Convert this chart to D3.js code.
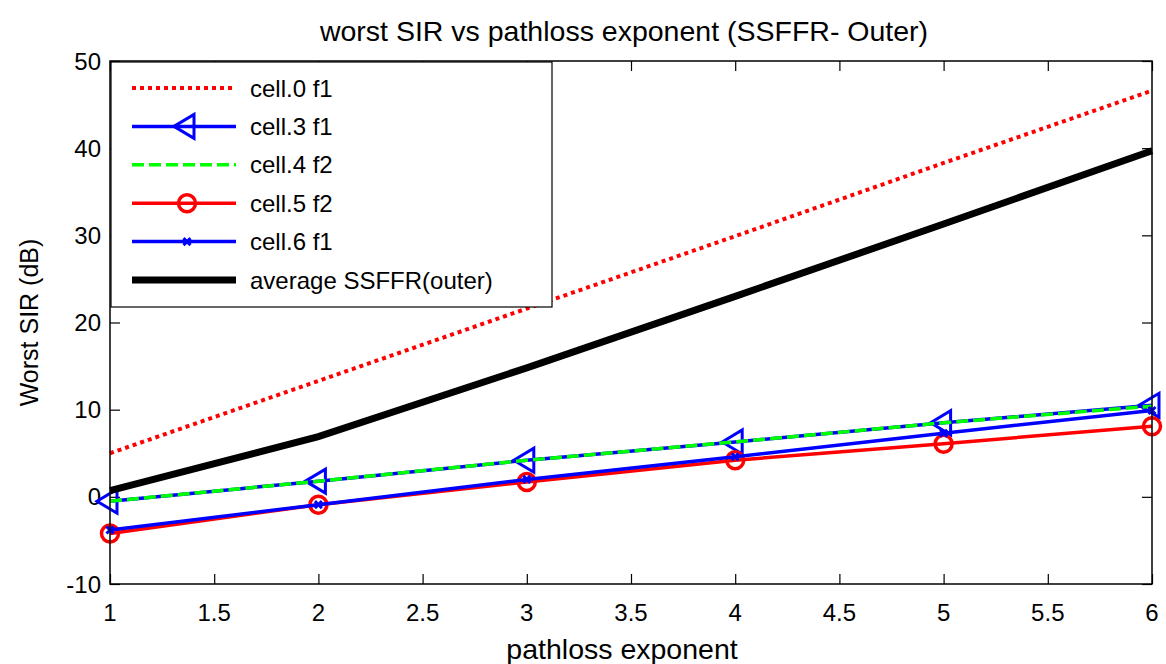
<!DOCTYPE html>
<html>
<head>
<meta charset="utf-8">
<script src="https://cdn.jsdelivr.net/npm/d3@7"></script>
<style>
  body { margin: 0; background: #fff; }
  text { font-family: "Liberation Sans", Arial, sans-serif; }
</style>
</head>
<body>
<script>
// data
var exponents = [1, 2, 3, 4, 5, 6];
var cell0f1 = [5.0, 13.3, 21.6, 29.9, 38.3, 46.6];
var cell3f1 = [-0.5, 1.8, 4.2, 6.3, 8.5, 10.5];
var cell4f2 = [-0.5, 1.8, 4.2, 6.3, 8.5, 10.4];
var cell5f2 = [-4.2, -0.9, 1.7, 4.2, 6.1, 8.1];
var cell6f1 = [-3.8, -0.9, 2.0, 4.6, 7.3, 9.9];
var avgOuter = [0.7, 6.9, 14.8, 23.0, 31.3, 39.7];
var xTicks = [1, 1.5, 2, 2.5, 3, 3.5, 4, 4.5, 5, 5.5, 6];
var yTicks = [-10, 0, 10, 20, 30, 40, 50];

var series = [
  { name: "cell.0 f1", values: cell0f1, color: "#ff0000", width: 4, dash: "4,4", marker: null },
  { name: "cell.3 f1", values: cell3f1, color: "#0000ff", width: 3.5, dash: null, marker: "tri" },
  { name: "cell.4 f2", values: cell4f2, color: "#00ff00", width: 3.5, dash: "12,5", marker: null },
  { name: "cell.5 f2", values: cell5f2, color: "#ff0000", width: 3.5, dash: null, marker: "circle" },
  { name: "cell.6 f1", values: cell6f1, color: "#0000ff", width: 3.5, dash: null, marker: "x" },
  { name: "average SSFFR(outer)", values: avgOuter, color: "#000000", width: 7, dash: null, marker: null }
];

var W = 1166, H = 664;
var pLeft = 110, pRight = 1152, pTop = 61, pBottom = 584;

var svg = d3.select("body").append("svg")
  .attr("width", W)
  .attr("height", H);

var x = d3.scaleLinear().domain([1, 6]).range([pLeft, pRight]);
var y = d3.scaleLinear().domain([-10, 50]).range([pBottom, pTop]);

// title
svg.append("text")
  .attr("x", 624)
  .attr("y", 41)
  .attr("text-anchor", "middle")
  .style("font-size", "28.5px")
  .text("worst SIR vs pathloss exponent (SSFFR- Outer)");

// axes with inward ticks on all four sides
var tick = 10;
svg.append("g")
  .attr("transform", "translate(0," + pBottom + ")")
  .call(d3.axisTop(x).tickValues(xTicks).tickSize(tick).tickFormat(""));
svg.append("g")
  .attr("transform", "translate(0," + pTop + ")")
  .call(d3.axisBottom(x).tickValues(xTicks).tickSize(tick).tickFormat(""));
svg.append("g")
  .attr("transform", "translate(" + pLeft + ",0)")
  .call(d3.axisRight(y).tickValues(yTicks).tickSize(tick).tickFormat(""));
svg.append("g")
  .attr("transform", "translate(" + pRight + ",0)")
  .call(d3.axisLeft(y).tickValues(yTicks).tickSize(tick).tickFormat(""));
svg.selectAll(".domain").remove();
svg.selectAll(".tick line").attr("stroke", "#000").attr("stroke-width", 1.2);

// tick labels
svg.selectAll(".xlab")
  .data(xTicks)
  .enter().append("text")
  .attr("x", function(d) { return x(d); })
  .attr("y", 621)
  .attr("text-anchor", "middle")
  .style("font-size", "24px")
  .text(function(d) { return d; });

svg.selectAll(".ylab")
  .data(yTicks)
  .enter().append("text")
  .attr("x", pLeft - 9)
  .attr("y", function(d) { return y(d); })
  .attr("dy", "0.36em")
  .attr("text-anchor", "end")
  .style("font-size", "24px")
  .text(function(d) { return d; });

// axis titles
svg.append("text")
  .attr("x", 622)
  .attr("y", 659)
  .attr("text-anchor", "middle")
  .style("font-size", "28.5px")
  .text("pathloss exponent");

svg.append("text")
  .attr("transform", "translate(38," + ((pTop + pBottom) / 2) + ") rotate(-90)")
  .attr("text-anchor", "middle")
  .style("font-size", "25px")
  .text("Worst SIR (dB)");

// lines
var line = d3.line()
  .x(function(d, i) { return x(exponents[i]); })
  .y(function(d) { return y(d); });

function drawMarker(g, type, color, cx, cy) {
  if (type === "tri") {
    g.append("path")
      .attr("d", "M" + (cx - 13) + "," + cy + "L" + (cx + 7) + "," + (cy - 12) + "L" + (cx + 7) + "," + (cy + 12) + "Z")
      .attr("fill", "none").attr("stroke", color).attr("stroke-width", 3);
  } else if (type === "circle") {
    g.append("circle")
      .attr("cx", cx).attr("cy", cy).attr("r", 8.5)
      .attr("fill", "none").attr("stroke", color).attr("stroke-width", 3.5);
  } else if (type === "x") {
    var s = 3.5;
    g.append("path")
      .attr("d", "M" + (cx - s) + "," + (cy - s) + "L" + (cx + s) + "," + (cy + s) + "M" + (cx - s) + "," + (cy + s) + "L" + (cx + s) + "," + (cy - s))
      .attr("stroke", color).attr("stroke-width", 3);
  }
}

series.forEach(function(s) {
  var g = svg.append("g");
  g.append("path")
    .datum(s.values)
    .attr("fill", "none")
    .attr("stroke", s.color)
    .attr("stroke-width", s.width)
    .attr("stroke-dasharray", s.dash)
    .attr("d", line);
  if (s.marker) {
    s.values.forEach(function(v, i) {
      drawMarker(g, s.marker, s.color, x(exponents[i]), y(v));
    });
  }
});

// plot box
svg.append("rect")
  .attr("x", pLeft).attr("y", pTop)
  .attr("width", pRight - pLeft).attr("height", pBottom - pTop)
  .attr("fill", "none").attr("stroke", "#000").attr("stroke-width", 1.5);

// legend
var lg = svg.append("g");
lg.append("rect")
  .attr("x", 111).attr("y", 62)
  .attr("width", 441).attr("height", 245)
  .attr("fill", "#fff").attr("stroke", "#000").attr("stroke-width", 1.2);

series.forEach(function(s, i) {
  var ly = 88 + i * 38.4;
  lg.append("line")
    .attr("x1", 132).attr("x2", 236)
    .attr("y1", ly).attr("y2", ly)
    .attr("stroke", s.color)
    .attr("stroke-width", s.width)
    .attr("stroke-dasharray", s.dash);
  if (s.marker) drawMarker(lg, s.marker, s.color, 187, ly);
  lg.append("text")
    .attr("x", 250).attr("y", ly)
    .attr("dy", "0.36em")
    .style("font-size", "24px")
    .text(s.name);
});
</script>
</body>
</html>
